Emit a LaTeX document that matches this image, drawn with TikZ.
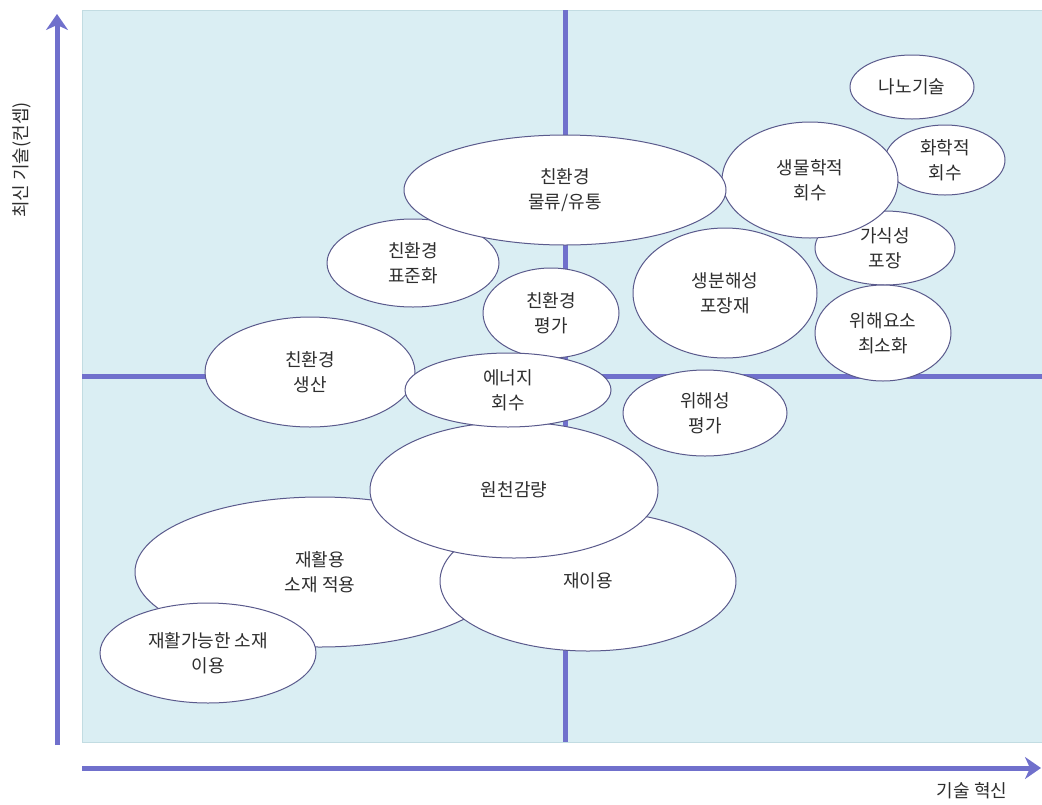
\documentclass[tikz,border=0pt]{standalone}
\usepackage{fontspec}
\setmainfont{Noto Sans CJK KR}
\usetikzlibrary{arrows.meta,shapes.geometric}
\definecolor{panelc}{HTML}{DAEEF3}
\definecolor{panelb}{HTML}{C2DCE2}
\definecolor{axc}{HTML}{7070CC}
\definecolor{edgec}{HTML}{5A5A8C}
\definecolor{txtc}{HTML}{2E2E2E}
\tikzset{
  bub/.style={ellipse, draw=edgec, fill=white, line width=1pt, inner sep=0pt,
    align=center, text=txtc, font=\fontsize{18}{25}\selectfont},
  quad/.style={draw=axc, line width=5pt},
  axisline/.style={draw=axc, line width=5pt, -{Stealth[length=16pt,width=22pt,inset=5pt]}},
  axlabel/.style={text=txtc, font=\fontsize{18}{22}\selectfont, inner sep=0pt}
}
\newcommand\bubble[6]{\node[bub, minimum width=#3, minimum height=#4] (#1) at #2 {#5\\#6};}
\newcommand\bubbleone[5]{\node[bub, minimum width=#3, minimum height=#4] (#1) at #2 {#5};}
\begin{document}
\begin{tikzpicture}[x=1pt,y=-1pt]
\useasboundingbox (0,0) rectangle (1042,804);
% panel
\fill[panelc, draw=panelb, line width=1pt] (82,10) rectangle (1042,742);
% quadrant lines
\coordinate (vt) at (565,10);
\coordinate (vb) at (565,742);
\coordinate (hl) at (82,376);
\coordinate (hr) at (1042,376);
\draw[quad] (vt) -- (vb);
\draw[quad] (hl) -- (hr);
% axes
\coordinate (yb) at (57,745);
\coordinate (yt) at (57,14);
\coordinate (xl) at (82,768);
\coordinate (xr) at (1041,768);
\draw[axisline] (yb) -- (yt);
\draw[axisline] (xl) -- (xr);
\node[axlabel, rotate=90] (ylab) at (22,160) {최신 기술(컨셉)};
\node[axlabel] (xlab) at (972,791) {기술 혁신};
% bubbles (back to front)
\bubbleone{nano}{(912,87)}{124}{64}{나노기술}
\bubble{chem}{(945,160)}{120}{70}{화학적}{회수}
\bubble{edible}{(885,248)}{140}{74}{가식성}{포장}
\bubble{biodeg}{(725,293)}{184}{130}{생분해성}{포장재}
\bubble{bio}{(810,180)}{176}{116}{생물학적}{회수}
\bubble{hazmin}{(883,333)}{136}{96}{위해요소}{최소화}
\bubble{std}{(413,263)}{172}{88}{친환경}{표준화}
\bubble{logi}{(565,190)}{322}{110}{친환경}{물류/유통}
\bubble{evalc}{(551,313)}{136}{90}{친환경}{평가}
\bubble{hazev}{(705,413)}{164}{86}{위해성}{평가}
\bubble{recmat}{(320,572)}{370}{150}{재활용}{소재 적용}
\bubble{recyc}{(208,653)}{216}{100}{재활가능한 소재}{이용}
\bubbleone{reuse}{(588,581)}{296}{140}{재이용}
\bubbleone{src}{(514,490)}{288}{136}{원천감량}
\bubble{prod}{(310,372)}{210}{110}{친환경}{생산}
\bubble{energy}{(508,390)}{206}{74}{에너지}{회수}
\end{tikzpicture}
\end{document}
